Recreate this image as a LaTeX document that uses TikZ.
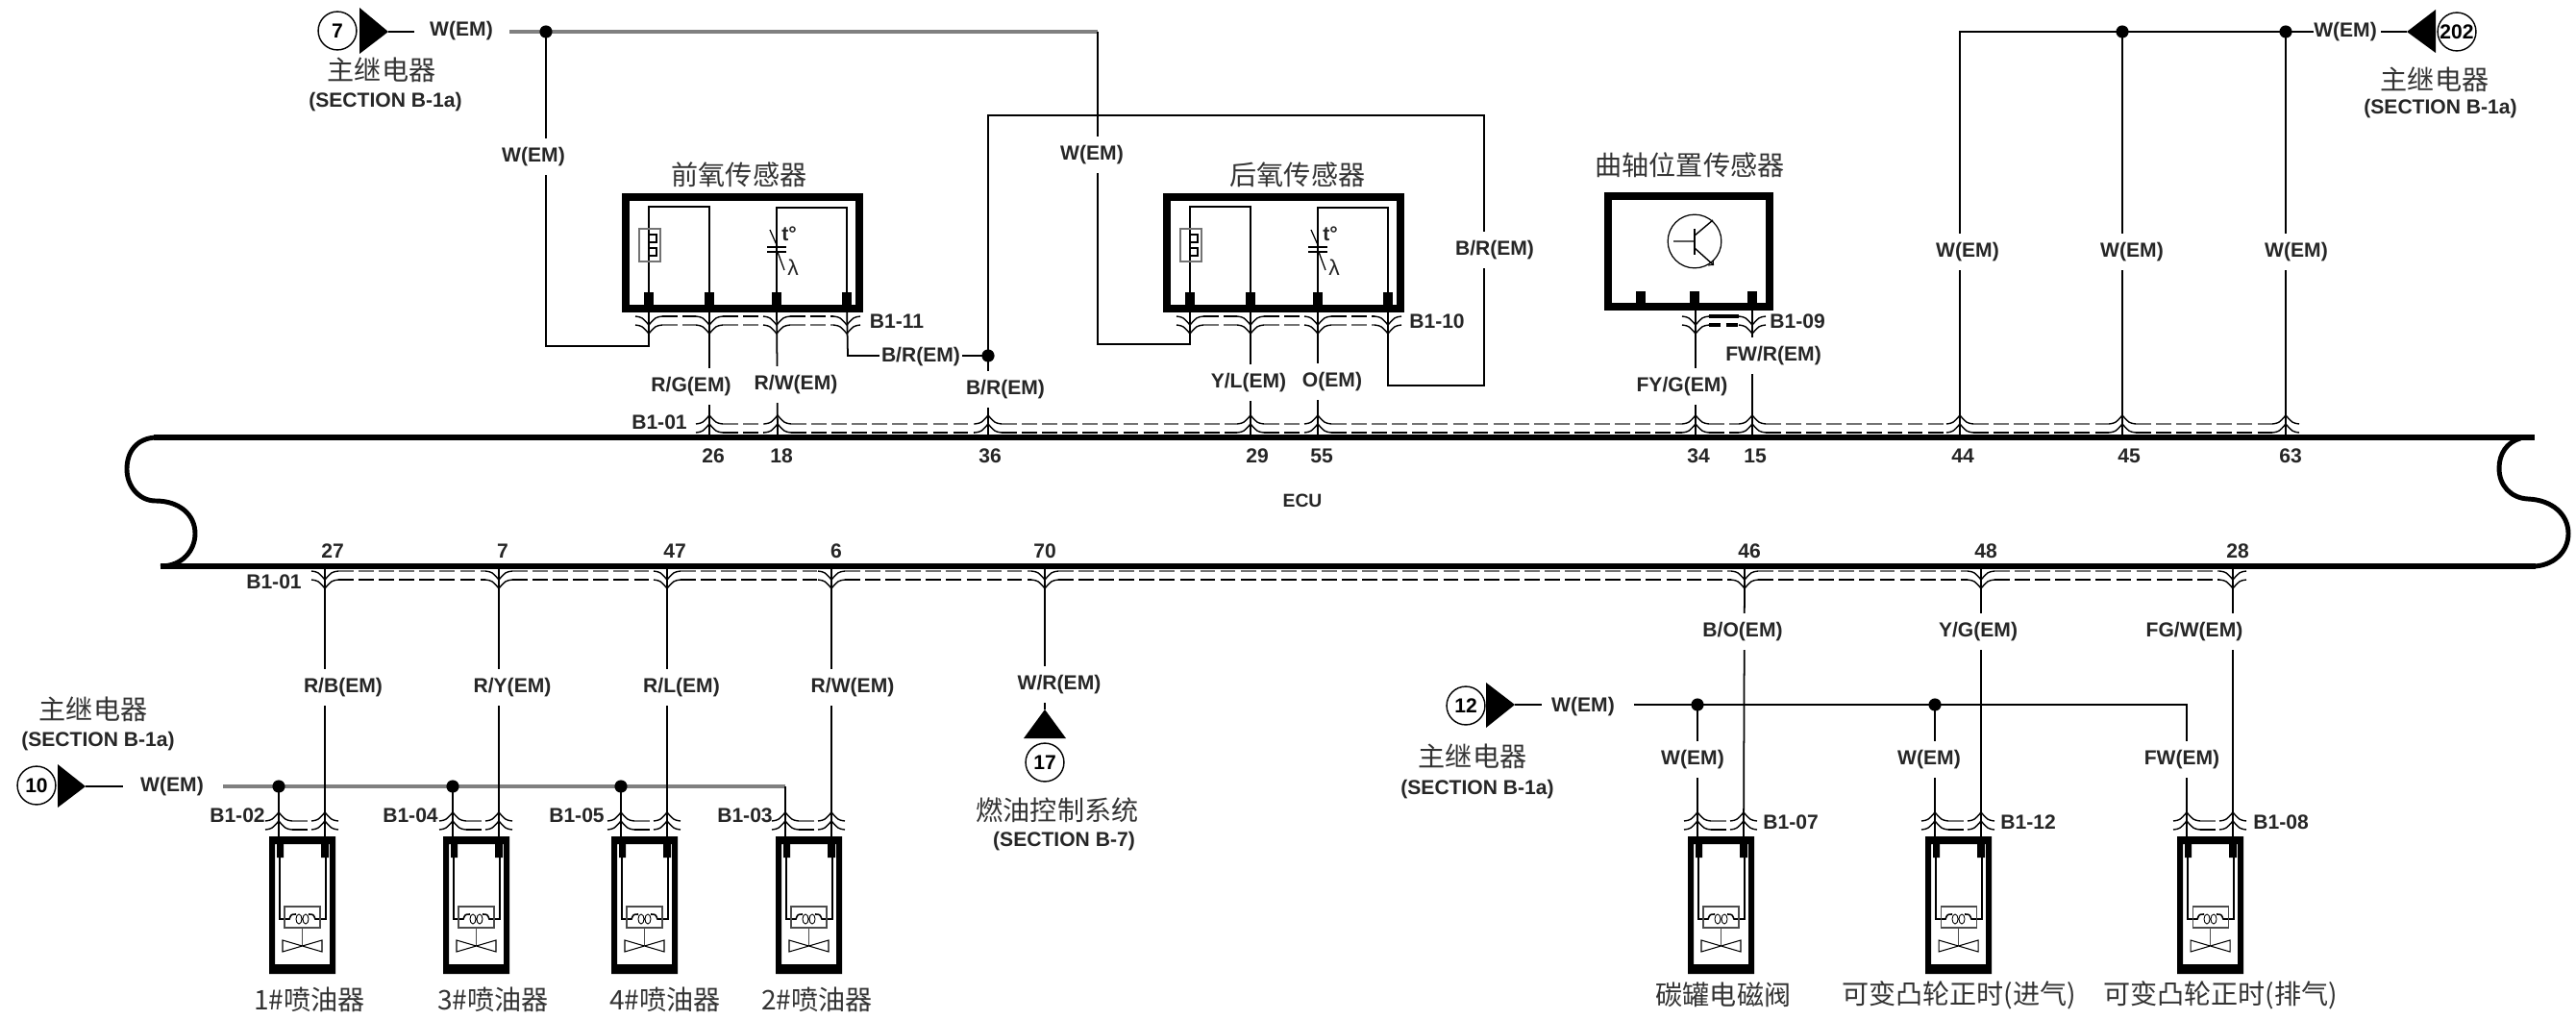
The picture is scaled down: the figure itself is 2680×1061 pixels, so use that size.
\documentclass[tikz,border=0pt]{standalone}
\usepackage{fontspec}
\setmainfont{Liberation Sans}
\newfontfamily\cjk{Noto Sans CJK SC}
\tikzset{
  wire/.style={line width=1pt},
  greywire/.style={line width=2pt,black!50},
  bus/.style={line width=3.4pt},
  chev/.style={line width=.8pt},
  dashgrey/.style={line width=1.3pt,black!55,dash pattern=on 9pt off 3pt},
  dashblack/.style={line width=1pt,dash pattern=on 9pt off 3pt},
  lbl/.style={font=\fontsize{12}{14}\selectfont\bfseries,text=black!85,fill=white,inner xsep=1pt,inner ysep=0pt,minimum height=22pt},
  tag/.style={font=\fontsize{12}{14}\selectfont\bfseries,text=black!85,inner sep=0pt},
  cnlbl/.style={font=\cjk\fontsize{16}{18}\selectfont,text=black!80,inner sep=0pt},
  refcirc/.style={circle,draw,line width=.8pt,minimum size=22.7pt,inner sep=0pt,font=\fontsize{12}{14}\selectfont\bfseries},
  wiredot/.style={circle,fill=black,inner sep=0pt,minimum size=7.5pt}
}
\newcommand{\chevs}[3]{%
  \foreach \d in {0,9}
    \draw[chev] (#1-14,#2+#3*\d+#3*9) .. controls (#1-7,#2+#3*\d+#3*8) .. (#1,#2+#3*\d)
      .. controls (#1+7,#2+#3*\d+#3*8) .. (#1+14,#2+#3*\d+#3*9);
}
\newcommand{\injector}[2]{%
  \begin{scope}[shift={(#1,0)}]
    \fill[even odd rule] (-10,870) rectangle (59,1013) (-4,878) rectangle (53,1003);
    \fill (-2,878) rectangle (5,892) (44,878) rectangle (52,892);
    \coordinate (#2l) at (0,870);
    \coordinate (#2r) at (48,870);
    \draw[line width=.9pt] (1,892) -- (1,956) -- (11,956) .. controls (13,951) .. (18,951);
    \draw[line width=.9pt] (49,892) -- (49,956) -- (38,956) .. controls (36,951) .. (31,951);
    \draw[line width=.5pt] (21,956) ellipse (3 and 5) (28,956) ellipse (3 and 5);
    \draw[line width=.6pt,black!70] (6,943) rectangle (43,965);
    \draw[line width=.6pt,black!70] (24.5,965) -- (24.5,984);
    \draw[line width=.6pt] (4,978) -- (45,990) -- (45,978) -- (4,990) -- cycle;
  \end{scope}
  \chevs{#1}{845}{1}
  \chevs{#1+48}{845}{1}
  \draw[dashgrey] (#1+14,854) -- (#1+34,854);
  \draw[dashblack] (#1+14,863) -- (#1+34,863);
}
\newcommand{\oxysensor}[2]{%
  \begin{scope}[shift={(#1,0)}]
    \draw[line width=4.2pt] (-24,205) rectangle (219,321);
    \foreach \n/\p in {1/0,2/63,3/133,4/206} {
      \coordinate (#2\n) at (\p,317);
      \fill (\p-5,304) rectangle (\p+5,317);
      \chevs{\p}{347}{-1}
    }
    \foreach \a/\b in {0/63,63/133,133/206} {
      \draw[dashgrey] (\a+14,338) -- (\b-14,338);
      \draw[dashblack] (\a+14,329) -- (\b-14,329);
    }
    \draw[wire] (0,305) -- (0,215) -- (63,215) -- (63,305);
    \draw[wire] (133,305) -- (133,216) -- (206,216) -- (206,305);
    \draw[line width=.7pt,black!55] (-10,238) rectangle (12,272);
    \draw[line width=.7pt] (0,244) -- (8,244) -- (8,252) -- (0,252) (0,258) -- (8,258) -- (8,266) -- (0,266);
    \draw[line width=.9pt] (123,257) -- (143,257) (123,262) -- (143,262);
    \draw[line width=.7pt] (126,239) -- (134,257) (134,262) -- (141,281);
    \node[tag,font=\fontsize{12}{14}\selectfont\bfseries] (#2t) at (146,243) {t°};
    \node[tag,font=\fontsize{13}{15}\selectfont] (#2la) at (150,278) {λ};
  \end{scope}
}
\begin{document}
\begin{tikzpicture}[x=0.02cm,y=-0.02cm]
  \useasboundingbox (0,0) rectangle (2680,1061);
  % ecu
  \draw[bus] (160,455) -- (2637,455);
  \draw[bus] (167,589) -- (2638,589);
  \draw[line width=2.8pt] (162,455) .. controls (142,456) and (132,470) .. (132,488)
    .. controls (132,506) and (145,521) .. (162,521) .. controls (186,521) and (203,535) .. (203,555)
    .. controls (203,572) and (190,589) .. (167,589);
  \draw[line width=2.8pt] (2622,456) .. controls (2608,460) and (2600,472) .. (2600,487)
    .. controls (2600,505) and (2612,518) .. (2630,519) .. controls (2655,520) and (2672,535) .. (2672,555)
    .. controls (2672,575) and (2655,589) .. (2635,589);
  \node[tag,font=\fontsize{11}{13}\selectfont\bfseries] (ecu) at (1355,521) {ECU};
  \foreach \n/\px/\tx in {26/738/742,18/809/813,36/1028/1030,29/1301/1308,55/1371/1375,34/1764/1767,15/1823/1826,44/2039/2042,45/2208/2215,63/2378/2383} {
    \coordinate (up\n) at (\px,455);
    \node[tag] (num\n) at (\tx,474) {\n};
    \chevs{\px}{432}{1}
  }
  \foreach \n/\px/\tx in {27/338/346,7/519/523,47/694/702,6/865/870,70/1087/1087,46/1815/1820,48/2061/2066,28/2323/2328} {
    \coordinate (dn\n) at (\px,589);
    \node[tag] (num\n) at (\tx,573) {\n};
    \chevs{\px}{612}{-1}
  }
  \foreach \a/\b in {738/809,809/1028,1028/1301,1301/1371,1371/1764,1764/1823,1823/2039,2039/2208,2208/2378} {
    \draw[dashgrey] (\a+14,441) -- (\b-14,441);
    \draw[dashblack] (\a+14,450) -- (\b-14,450);
  }
  \foreach \a/\b in {338/519,519/694,694/865,865/1087,1087/1815,1815/2061,2061/2323} {
    \draw[dashgrey] (\a+14,594) -- (\b-14,594);
    \draw[dashblack] (\a+14,603) -- (\b-14,603);
  }
  \node[tag] (bA) at (686,439) {B1-01};
  \node[tag] (bB) at (285,605) {B1-01};

  % sensors
  \oxysensor{675}{oa}
  \oxysensor{1238}{ob}
  \node[cnlbl] (oaName) at (769,182) {前氧传感器};
  \node[cnlbl] (obName) at (1350,182) {后氧传感器};
  \node[cnlbl] (ocName) at (1758,172) {曲轴位置传感器};
  \node[tag] (bC) at (933,334) {B1-11};
  \node[tag] (bD) at (1495,334) {B1-10};
  \node[tag] (bE) at (1870,334) {B1-09};
  \draw[line width=4.2pt] (1673,204) rectangle (1841,319);
  \foreach \p in {1707,1763,1823} \fill (\p-5,303) rectangle (\p+5,315);
  \coordinate (oc2) at (1764,315);
  \coordinate (oc3) at (1823,315);
  \chevs{1764}{347}{-1}
  \chevs{1823}{347}{-1}
  \draw[line width=1.8pt,dash pattern=on 7pt off 3pt] (1778,338) -- (1809,338);
  \draw[line width=1.8pt] (1778,329) -- (1809,329);
  \node[circle,draw,line width=.7pt,minimum size=31.7pt,inner sep=0pt] (tran) at (1763,251) {};
  \draw[line width=1.2pt] (1763,238) -- (1763,265);
  \draw[line width=.8pt] (1741,251) -- (1763,251) (1763,245) -- (1782,229);
  \draw[line width=.8pt,->] (1763,258) -- (1783,276);

  % top feeds
  \node[refcirc] (refA) at (351,32) {7};
  \fill (374,8) -- (404,33) -- (374,56) -- cycle;
  \coordinate (tipA) at (404,33);
  \coordinate (endA) at (431,33);
  \draw[wire] (tipA) -- (endA);
  \node[tag] (wA) at (480,32) {W(EM)};
  \node[cnlbl] (mainA) at (397,73) {主继电器};
  \node[tag] (secA) at (401,106) {(SECTION B-1a)};
  \coordinate (startA) at (530,33);
  \coordinate (cornerA) at (1142,33);
  \draw[greywire] (startA) -- (cornerA);
  \node[wiredot] (dotA) at (568,33) {};
  \coordinate (turnA) at (675,360);
  \coordinate (turnB) at (1238,358);
  \draw[wire] (dotA.center) |- (turnA) -- (oa1);
  \draw[wire] (cornerA) |- (turnB) -- (ob1);

  \node[wiredot] (dotB) at (1028,370) {};
  \coordinate (turnC) at (882,370);
  \draw[wire] (oa4) -- (turnC) -- (dotB.center);
  \coordinate (topB) at (1028,120);
  \coordinate (topC) at (1544,120);
  \coordinate (botC) at (1544,401);
  \coordinate (botD) at (1444,401);
  \draw[wire] (up36) -- (topB) -- (topC) -- (botC) -- (botD) -- (ob4);
  \draw[wire] (oa2) -- (up26);
  \draw[wire] (oa3) -- (up18);
  \draw[wire] (ob2) -- (up29);
  \draw[wire] (ob3) -- (up55);
  \draw[wire] (oc2) -- (up34);
  \draw[wire] (oc3) -- (up15);
  \node[lbl] (lA) at (555,163) {W(EM)};
  \node[lbl] (lB) at (1136,161) {W(EM)};
  \node[lbl] (lC) at (958,371) {B/R(EM)};
  \node[lbl] (lD) at (1046,405) {B/R(EM)};
  \node[lbl] (lE) at (719,402) {R/G(EM)};
  \node[lbl] (lF) at (828,400) {R/W(EM)};
  \node[lbl] (lG) at (1299,398) {Y/L(EM)};
  \node[lbl] (lH) at (1386,397) {O(EM)};
  \node[lbl] (lI) at (1555,260) {B/R(EM)};
  \node[lbl] (lJ) at (1750,402) {FY/G(EM)};
  \node[lbl] (lK) at (1845,370) {FW/R(EM)};

  % right feed
  \node[refcirc] (refB) at (2556,33) {202};
  \fill (2534,10) -- (2504,33) -- (2534,55) -- cycle;
  \coordinate (tipB) at (2504,33);
  \coordinate (endB) at (2477,33);
  \draw[wire] (tipB) -- (endB);
  \node[tag] (wB) at (2440,33) {W(EM)};
  \node[cnlbl] (mainB) at (2533,83) {主继电器};
  \node[tag] (secB) at (2539,113) {(SECTION B-1a)};
  \node[wiredot] (dotC) at (2378,33) {};
  \node[wiredot] (dotD) at (2208,33) {};
  \coordinate (startB) at (2407,33);
  \coordinate (cornerB) at (2039,33);
  \draw[wire] (startB) -- (cornerB) -- (up44);
  \draw[wire] (dotD.center) -- (up45);
  \draw[wire] (dotC.center) -- (up63);
  \node[lbl] (lL) at (2047,262) {W(EM)};
  \node[lbl] (lM) at (2218,262) {W(EM)};
  \node[lbl] (lN) at (2389,262) {W(EM)};

  % injectors
  \injector{290}{ia}
  \injector{471}{ib}
  \injector{646}{ic}
  \injector{817}{id}
  \node[cnlbl] (iaName) at (322,1040) {1\#喷油器};
  \node[cnlbl] (ibName) at (513,1040) {3\#喷油器};
  \node[cnlbl] (icName) at (692,1040) {4\#喷油器};
  \node[cnlbl] (idName) at (850,1040) {2\#喷油器};
  \node[tag] (bF) at (247,848) {B1-02};
  \node[tag] (bG) at (427,848) {B1-04};
  \node[tag] (bH) at (600,848) {B1-05};
  \node[tag] (bI) at (775,848) {B1-03};
  \node[refcirc] (refC) at (38,817) {10};
  \fill (60,795) -- (89,818) -- (60,840) -- cycle;
  \coordinate (tipC) at (89,818);
  \coordinate (endC) at (128,818);
  \draw[wire] (tipC) -- (endC);
  \node[tag] (wC) at (179,818) {W(EM)};
  \node[cnlbl] (mainC) at (97,738) {主继电器};
  \node[tag] (secC) at (102,771) {(SECTION B-1a)};
  \coordinate (startC) at (232,818);
  \coordinate (cornerC) at (817,818);
  \draw[greywire] (startC) -- (cornerC);
  \node[wiredot] (dotE) at (290,818) {};
  \node[wiredot] (dotF) at (471,818) {};
  \node[wiredot] (dotG) at (646,818) {};
  \draw[wire] (dotE.center) -- (ial);
  \draw[wire] (dotF.center) -- (ibl);
  \draw[wire] (dotG.center) -- (icl);
  \draw[wire] (cornerC) -- (idl);
  \draw[wire] (dn27) -- (iar);
  \draw[wire] (dn7) -- (ibr);
  \draw[wire] (dn47) -- (icr);
  \draw[wire] (dn6) -- (idr);
  \node[lbl] (lO) at (357,715) {R/B(EM)};
  \node[lbl] (lP) at (533,715) {R/Y(EM)};
  \node[lbl] (lQ) at (709,715) {R/L(EM)};
  \node[lbl] (lR) at (887,715) {R/W(EM)};

  % fuel system
  \coordinate (tipD) at (1087,738);
  \draw[wire] (dn70) -- (tipD);
  \fill (1087,738) -- (1109,768) -- (1065,768) -- cycle;
  \node[lbl] (lS) at (1102,712) {W/R(EM)};
  \node[refcirc] (refD) at (1087,793) {17};
  \node[cnlbl] (fuelName) at (1100,843) {燃油控制系统};
  \node[tag] (secD) at (1107,875) {(SECTION B-7)};

  % valves
  \injector{1766}{va}
  \injector{2013}{vb}
  \injector{2275}{vc}
  \node[cnlbl] (vaName) at (1793,1035) {碳罐电磁阀};
  \node[cnlbl] (vbName) at (2038,1035) {可变凸轮正时(进气)};
  \node[cnlbl] (vcName) at (2310,1035) {可变凸轮正时(排气)};
  \node[tag] (bJ) at (1863,855) {B1-07};
  \node[tag] (bK) at (2110,855) {B1-12};
  \node[tag] (bL) at (2373,855) {B1-08};
  \node[refcirc] (refE) at (1525,734) {12};
  \fill (1546,710) -- (1576,733) -- (1546,757) -- cycle;
  \coordinate (tipE) at (1576,733);
  \coordinate (endE) at (1604,733);
  \draw[wire] (tipE) -- (endE);
  \node[tag] (wE) at (1647,735) {W(EM)};
  \node[cnlbl] (mainE) at (1532,787) {主继电器};
  \node[tag] (secE) at (1537,821) {(SECTION B-1a)};
  \coordinate (startE) at (1700,733);
  \coordinate (cornerE) at (2275,733);
  \node[wiredot] (dotH) at (1766,733) {};
  \node[wiredot] (dotI) at (2013,733) {};
  \draw[wire] (startE) -- (cornerE) -- (vcl);
  \draw[wire] (dotH.center) -- (val);
  \draw[wire] (dotI.center) -- (vbl);
  \draw[wire] (dn46) -- (var);
  \draw[wire] (dn48) -- (vbr);
  \draw[wire] (dn28) -- (vcr);
  \node[lbl] (lT) at (1813,657) {B/O(EM)};
  \node[lbl] (lU) at (2058,657) {Y/G(EM)};
  \node[lbl] (lV) at (2283,657) {FG/W(EM)};
  \node[lbl] (lW) at (1761,790) {W(EM)};
  \node[lbl] (lX) at (2007,790) {W(EM)};
  \node[lbl] (lY) at (2270,790) {FW(EM)};
\end{tikzpicture}
\end{document}
